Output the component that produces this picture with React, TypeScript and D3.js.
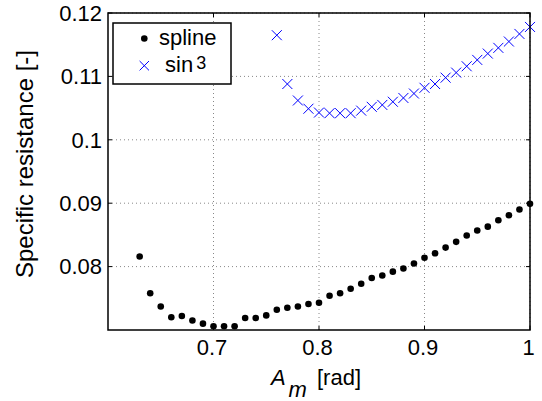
import React from "react";
import * as d3 from "d3";

const splineX = [0.63,0.64,0.65,0.66,0.67,0.68,0.69,0.70,0.71,0.72,0.73,0.74,0.75,0.76,0.77,0.78,0.79,0.80,0.81,0.82,0.83,0.84,0.85,0.86,0.87,0.88,0.89,0.90,0.91,0.92,0.93,0.94,0.95,0.96,0.97,0.98,0.99,1.00];
const splineY = [0.0816,0.0758,0.0737,0.0720,0.0722,0.0715,0.0710,0.0706,0.0706,0.0706,0.0719,0.0719,0.0723,0.0732,0.0735,0.0737,0.0741,0.0743,0.0754,0.0758,0.0765,0.0773,0.0782,0.0786,0.0792,0.0797,0.0805,0.0814,0.0821,0.0830,0.0839,0.0849,0.0857,0.0863,0.0873,0.0881,0.0890,0.0899];
const sinX = [0.76,0.77,0.78,0.79,0.80,0.81,0.82,0.83,0.84,0.85,0.86,0.87,0.88,0.89,0.90,0.91,0.92,0.93,0.94,0.95,0.96,0.97,0.98,0.99,1.00];
const sinY = [0.1165,0.1088,0.1062,0.1049,0.1043,0.1042,0.1042,0.1042,0.1046,0.1052,0.1055,0.1060,0.1066,0.1073,0.1082,0.1088,0.1098,0.1106,0.1116,0.1126,0.1136,0.1145,0.1155,0.1167,0.1178];
const xTicks = [0.7, 0.8, 0.9, 1];
const yTicks = [0.08, 0.09, 0.1, 0.11, 0.12];
const xTickLabels = ["0.7", "0.8", "0.9", "1"];
const yTickLabels = ["0.08", "0.09", "0.1", "0.11", "0.12"];

const W = 542, H = 401;
const L = 108, R = 530, T = 13, B = 330;
const FONT = "'Liberation Sans', Arial, sans-serif";
const FS = 22;

export default function App() {
  const x = d3.scaleLinear().domain([0.6, 1]).range([L, R]);
  const y = d3.scaleLinear().domain([0.07, 0.12]).range([B, T]);
  const xs = 5;
  const lx = 4.7;
  return (
    <svg width={W} height={H} style={{ position: "absolute", left: 0, top: 0, background: "#fff" }}>
      <rect x={0} y={0} width={W} height={H} fill="#fff" />
      {/* grid */}
      {xTicks.map((t, i) => (
        <line key={"gx" + i} x1={x(t)} x2={x(t)} y1={T} y2={B} stroke="#888" strokeWidth={1} strokeDasharray="1,3" />
      ))}
      {yTicks.map((t, i) => (
        <line key={"gy" + i} x1={L} x2={R} y1={y(t)} y2={y(t)} stroke="#888" strokeWidth={1} strokeDasharray="1,3" />
      ))}
      {/* ticks */}
      {xTicks.map((t, i) => (
        <g key={"tx" + i}>
          <line x1={x(t)} x2={x(t)} y1={B} y2={B - 4} stroke="#000" />
          <line x1={x(t)} x2={x(t)} y1={T} y2={T + 4} stroke="#000" />
          <text x={x(t) - 1.5} y={354.5} fontSize={FS} fontFamily={FONT} textAnchor="middle" fill="#000">{xTickLabels[i]}</text>
        </g>
      ))}
      {yTicks.map((t, i) => (
        <g key={"ty" + i}>
          <line x1={L} x2={L + 4} y1={y(t)} y2={y(t)} stroke="#000" />
          <line x1={R} x2={R - 4} y1={y(t)} y2={y(t)} stroke="#000" />
          <text x={102} y={y(t)} dy="0.35em" fontSize={FS} fontFamily={FONT} textAnchor="end" fill="#000">{yTickLabels[i]}</text>
        </g>
      ))}
      {/* data */}
      {splineX.map((v, i) => (
        <circle key={"s" + i} cx={x(v)} cy={y(splineY[i])} r={3.3} fill="#000" />
      ))}
      {sinX.map((v, i) => (
        <path key={"c" + i} d={`M${x(v) - xs},${y(sinY[i]) - xs}L${x(v) + xs},${y(sinY[i]) + xs}M${x(v) - xs},${y(sinY[i]) + xs}L${x(v) + xs},${y(sinY[i]) - xs}`} stroke="#0000ff" strokeWidth={1} fill="none" />
      ))}
      {/* frame */}
      <rect x={L} y={T} width={R - L} height={B - T} fill="none" stroke="#000" strokeWidth={1.5} />
      {/* legend */}
      <rect x={113} y={23} width={118} height={61} fill="#fff" stroke="#000" strokeWidth={1.5} />
      <circle cx={144.3} cy={38.5} r={3.3} fill="#000" />
      <text x={159} y={45} fontSize={FS} fontFamily={FONT} fill="#000">spline</text>
      <path d={`M${144.3 - lx},${65.7 - lx}L${144.3 + lx},${65.7 + lx}M${144.3 - lx},${65.7 + lx}L${144.3 + lx},${65.7 - lx}`} stroke="#0000ff" strokeWidth={1} />
      <text x={165} y={71.7} fontSize={FS} fontFamily={FONT} fill="#000">sin<tspan fontSize={18} dx={3} dy={-3}>3</tspan></text>
      {/* axis labels */}
      <text transform={`translate(33.3,164) rotate(-90)`} fontSize={24} fontFamily={FONT} textAnchor="middle" fill="#000">Specific resistance [-]</text>
      <text x={271} y={384.5} fontSize={FS} fontFamily={FONT} fontStyle="italic" fill="#000">A</text>
      <text x={288.5} y={396.5} fontSize={FS} fontFamily={FONT} fontStyle="italic" fill="#000">m</text>
      <text x={317} y={384.5} fontSize={FS} fontFamily={FONT} fill="#000">[rad]</text>
    </svg>
  );
}
